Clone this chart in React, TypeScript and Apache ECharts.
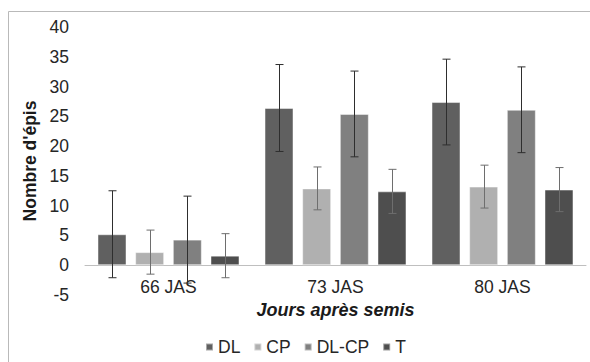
import React, { useEffect, useRef } from "react";
import * as echarts from "echarts";

const categories = ["66 JAS", "73 JAS", "80 JAS"];
const seriesNames = ["DL", "CP", "DL-CP", "T"];
const dlValues = [5.2, 26.4, 27.4];
const cpValues = [2.2, 12.9, 13.2];
const dlcpValues = [4.3, 25.4, 26.1];
const tValues = [1.6, 12.4, 12.7];
const dlErr = [7.3, 7.3, 7.2];
const cpErr = [3.7, 3.6, 3.6];
const dlcpErr = [7.3, 7.2, 7.2];
const tErr = [3.7, 3.7, 3.7];
const yTicks = { min: -5, max: 40, interval: 5 };

const values = [dlValues, cpValues, dlcpValues, tValues];
const errors = [dlErr, cpErr, dlcpErr, tErr];
const barColors = ["#606060", "#b0b0b0", "#808080", "#4e4e4e"];
const errColors = ["#2e2e2e", "#6e6e6e", "#2e2e2e", "#6e6e6e"];

const BAR_GAP = 0.3;
const CAT_GAP = 0.15;
const FONT = "Liberation Sans, Arial, sans-serif";

export default function App() {
  const ref = useRef<HTMLDivElement>(null);
  useEffect(() => {
    if (!ref.current) return;
    const chart = echarts.init(ref.current, null, { renderer: "svg" });
    const n = seriesNames.length;
    const barSeries = seriesNames.map((name, i) => ({
      name,
      type: "bar",
      data: values[i],
      barGap: BAR_GAP * 100 + "%",
      barCategoryGap: CAT_GAP * 100 + "%",
      itemStyle: { color: barColors[i], borderColor: "rgba(255,255,255,0.45)", borderWidth: 1 },
      z: 2,
    }));
    const errSeries = seriesNames.map((_, idx) => ({
      type: "custom",
      z: 5,
      silent: true,
      data: categories.map((_, ci) => [ci, values[idx][ci] - errors[idx][ci], values[idx][ci] + errors[idx][ci]]),
      encode: { x: 0, y: [1, 2] },
      renderItem: (params: any, api: any) => {
        const ci = api.value(0);
        const lo = api.value(1);
        const hi = api.value(2);
        const bw = api.size([1, 0])[0];
        const w = (bw * (1 - CAT_GAP)) / (n + (n - 1) * BAR_GAP);
        const total = n * w + (n - 1) * w * BAR_GAP;
        const pLo = api.coord([ci, lo]);
        const pHi = api.coord([ci, hi]);
        const x = Math.round(pLo[0] - total / 2 + idx * w * (1 + BAR_GAP) + w / 2) + 0.5;
        const cap = 4;
        const style = { stroke: errColors[idx], lineWidth: 1 };
        return {
          type: "group",
          children: [
            { type: "line", shape: { x1: x, y1: pLo[1], x2: x, y2: pHi[1] }, style },
            { type: "line", shape: { x1: x - cap, y1: pLo[1], x2: x + cap, y2: pLo[1] }, style },
            { type: "line", shape: { x1: x - cap, y1: pHi[1], x2: x + cap, y2: pHi[1] }, style },
          ],
        };
      },
    }));
    chart.setOption({
      animation: false,
      textStyle: { fontFamily: FONT },
      graphic: [
        {
          type: "rect",
          shape: { x: 8.5, y: 11.5, width: 700, height: 500 },
          style: { fill: "none", stroke: "#b9b9b9", lineWidth: 1 },
          z: 0,
        },
      ],
      grid: { left: 85, right: 4, top: 27, bottom: 67 },
      legend: {
        data: seriesNames,
        left: 200,
        top: 333,
        itemWidth: 7,
        itemHeight: 7,
        itemGap: 13,
        icon: "rect",
        textStyle: { fontSize: 17.5, color: "#262626", fontFamily: FONT },
      },
      xAxis: {
        type: "category",
        data: categories,
        axisLine: { onZero: true, lineStyle: { color: "#bfbfbf", width: 1 } },
        axisTick: { show: false },
        axisLabel: { fontSize: 17.5, color: "#262626", margin: -17 },
        name: "Jours après semis",
        nameLocation: "middle",
        nameGap: -2,
        nameTextStyle: { fontSize: 18, fontWeight: "bold", fontStyle: "italic", color: "#1a1a1a" },
      },
      yAxis: {
        type: "value",
        min: yTicks.min,
        max: yTicks.max,
        interval: yTicks.interval,
        axisLine: { show: false },
        axisTick: { show: false },
        splitLine: { show: false },
        axisLabel: { fontSize: 17.5, color: "#262626", margin: 16 },
        name: "Nombre d'épis",
        nameLocation: "middle",
        nameGap: 36,
        nameTextStyle: { fontSize: 17.5, fontWeight: "bold", color: "#1a1a1a" },
      },
      series: [...barSeries, ...errSeries],
    });
    return () => chart.dispose();
  }, []);
  return (
    <div
      ref={ref}
      style={{ position: "absolute", left: 0, top: 0, width: 590, height: 362, background: "#fff" }}
    />
  );
}
